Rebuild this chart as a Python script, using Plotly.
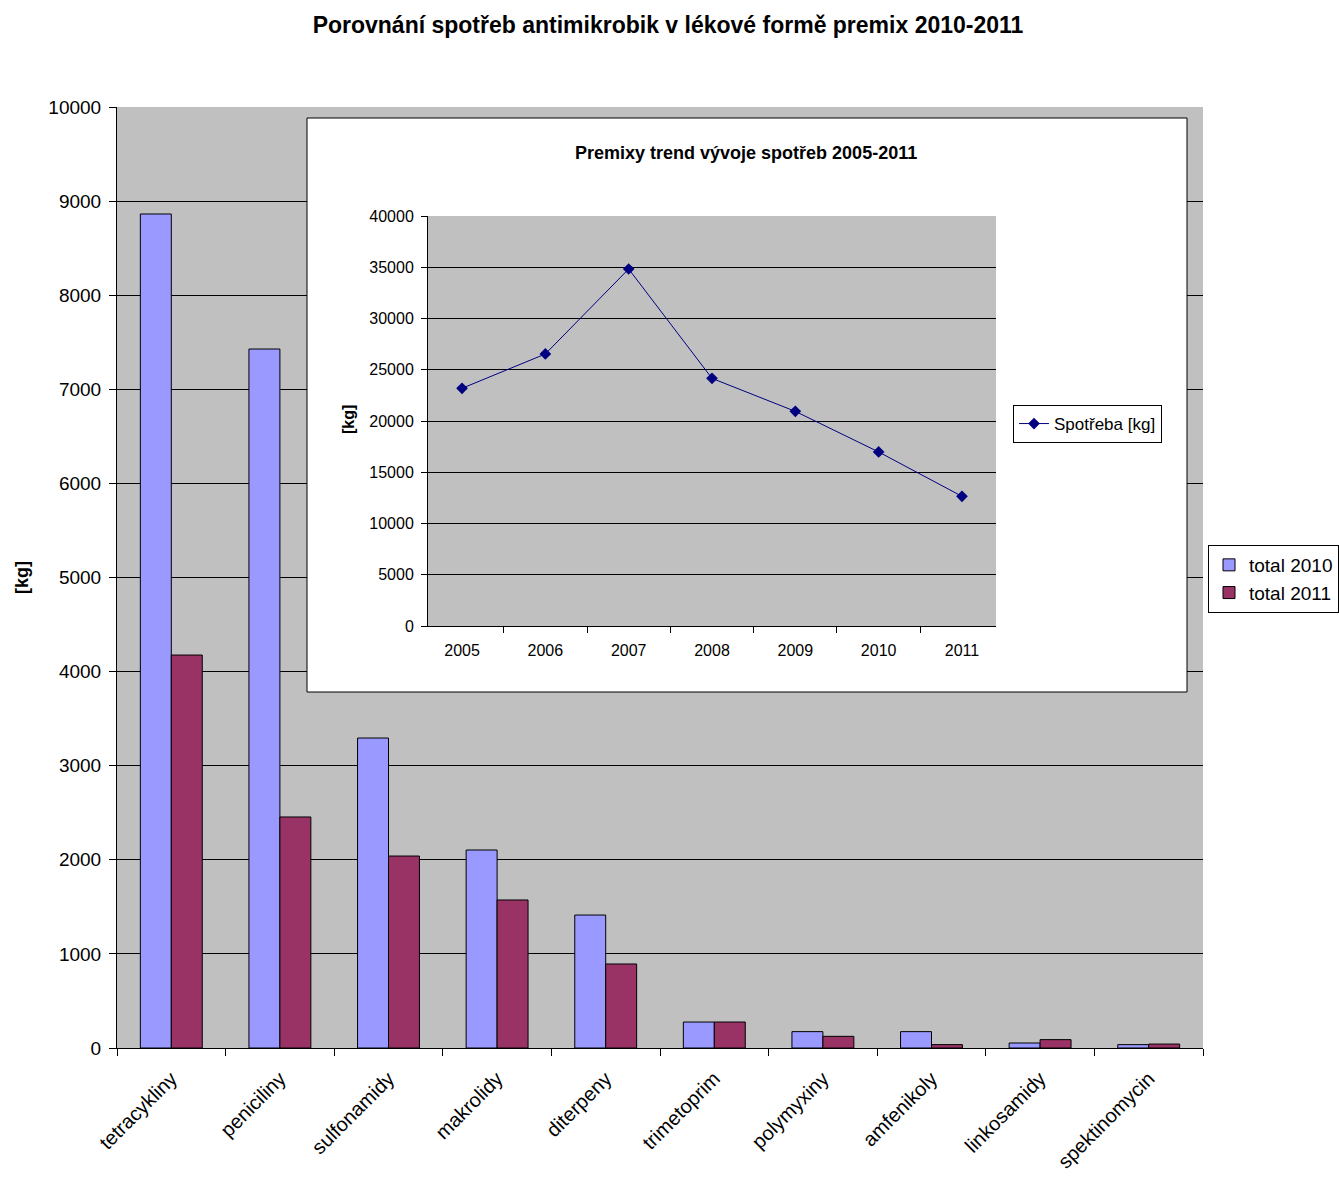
import plotly.graph_objects as go

# ---- data ----
categories = ["tetracykliny", "peniciliny", "sulfonamidy", "makrolidy", "diterpeny",
              "trimetoprim", "polymyxiny", "amfenikoly", "linkosamidy", "spektinomycin"]
total_2010 = [8863, 7428, 3294, 2104, 1413, 276, 174, 174, 53, 36]
total_2011 = [4176, 2455, 2040, 1573, 893, 276, 124, 36, 89, 42]

years = ["2005", "2006", "2007", "2008", "2009", "2010", "2011"]
spotreba = [23190, 26540, 34830, 24160, 20940, 16980, 12650]

W, H = 1339, 1178
FONT = "Liberation Sans, Arial, sans-serif"

# main plot area in pixels
PX_L, PX_R, PX_T, PX_B = 117, 1203, 107, 1048
YMAX = 10000


def px_x(p):
    return p / W


def px_y(p):
    return 1 - p / H


fig = go.Figure()

fig.add_trace(go.Bar(x=categories, y=total_2010, name="total 2010",
                     marker=dict(color="#9999FF", line=dict(color="black", width=1)),
                     xaxis="x", yaxis="y", legend="legend"))
fig.add_trace(go.Bar(x=categories, y=total_2011, name="total 2011",
                     marker=dict(color="#993366", line=dict(color="black", width=1)),
                     xaxis="x", yaxis="y", legend="legend"))

fig.add_trace(go.Scatter(x=years, y=spotreba, name="Spotřeba [kg]", mode="lines+markers",
                         line=dict(color="#000080", width=1),
                         marker=dict(symbol="diamond", size=9, color="#000080"),
                         xaxis="x2", yaxis="y2", legend="legend2"))

fig.update_layout(
    width=W, height=H, autosize=False,
    margin=dict(l=0, r=0, t=0, b=0, autoexpand=False),
    paper_bgcolor="white", plot_bgcolor="#C0C0C0",
    font=dict(family=FONT, color="black"),
    barmode="group", bargap=0.43, bargroupgap=0,
    xaxis=dict(domain=[px_x(PX_L), px_x(PX_R)], anchor="y",
               showline=True, linecolor="black", linewidth=1,
               ticks="outside", tickson="boundaries", ticklen=7, tickcolor="black",
               tickangle=-45, tickfont=dict(size=20), ticklabelstandoff=10,
               showgrid=False),
    yaxis=dict(domain=[px_y(PX_B), px_y(PX_T)], anchor="x", range=[0, YMAX], dtick=1000,
               tickformat="d",
               showline=True, linecolor="black", linewidth=1,
               ticks="outside", ticklen=7, tickcolor="black", ticklabelstandoff=4,
               tickfont=dict(size=19), showgrid=True, gridcolor="black", gridwidth=1,
               zeroline=False),
    xaxis2=dict(domain=[px_x(428), px_x(996)], anchor="y2",
                showline=True, linecolor="black", linewidth=1,
                ticks="outside", tickson="boundaries", ticklen=6, tickcolor="black",
                tickangle=0, tickfont=dict(size=16), ticklabelstandoff=10, showgrid=False),
    yaxis2=dict(domain=[px_y(626), px_y(216)], anchor="x2", range=[0, 40000], dtick=5000,
                tickformat="d",
                showline=True, linecolor="black", linewidth=1,
                ticks="outside", ticklen=6, tickcolor="black", ticklabelstandoff=4,
                tickfont=dict(size=16), showgrid=True, gridcolor="black", gridwidth=1,
                zeroline=False),
    legend=dict(x=px_x(1208), y=px_y(545), xanchor="left", yanchor="top",
                bgcolor="white", bordercolor="black", borderwidth=1,
                font=dict(size=19), itemwidth=30, tracegroupgap=0),
    legend2=dict(x=px_x(1013), y=px_y(405), xanchor="left", yanchor="top",
                 bgcolor="white", bordercolor="black", borderwidth=1,
                 font=dict(size=17), itemwidth=30),
    title=dict(text="<b>Porovnání spotřeb antimikrobik v lékové formě premix 2010-2011</b>",
               x=px_x(668), xanchor="center", y=px_y(25), yanchor="middle",
               font=dict(size=23, family=FONT)),
)

# white inset panel (between main gridlines and main traces), in main data coords
cat_w = (PX_R - PX_L) / len(categories)
ppu = (PX_B - PX_T) / YMAX
fig.add_shape(type="rect", xref="x", yref="y",
              x0=(307 - PX_L) / cat_w - 0.5, x1=(1187 - PX_L) / cat_w - 0.5,
              y0=(PX_B - 692) / ppu, y1=(PX_B - 118) / ppu,
              fillcolor="white", line=dict(color="black", width=1), layer="between")

fig.add_annotation(text="<b>Premixy trend vývoje spotřeb 2005-2011</b>",
                   xref="paper", yref="paper", x=px_x(746), y=px_y(153),
                   showarrow=False, font=dict(size=18), xanchor="center", yanchor="middle")
fig.add_annotation(text="<b>[kg]</b>", xref="paper", yref="paper",
                   x=px_x(22), y=px_y(578), textangle=-90, showarrow=False,
                   font=dict(size=18), xanchor="center", yanchor="middle")
fig.add_annotation(text="<b>[kg]</b>", xref="paper", yref="paper",
                   x=px_x(348), y=px_y(420), textangle=-90, showarrow=False,
                   font=dict(size=16), xanchor="center", yanchor="middle")

fig.write_html("out.html")
